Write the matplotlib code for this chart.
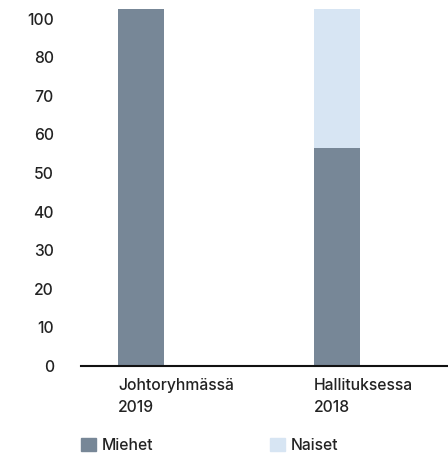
import matplotlib.pyplot as plt
from matplotlib.patches import Patch

# Gender split (%) of the management team and the board
groups = ["Johtoryhmässä\n2019", "Hallituksessa\n2018"]
men = [100, 61]
women = [0, 39]

# Y tick labels as printed on the axis (no "90" step)
ytick_labels = ["0", "10", "20", "30", "40", "50", "60", "70", "80", "100"]

MEN_COLOR = "#778797"
WOMEN_COLOR = "#d7e5f3"
TEXT_COLOR = "#222222"
FONT_SIZE = 11.3

plt.rcParams["font.family"] = ["Inter", "DejaVu Sans"]
plt.rcParams["font.weight"] = 500

fig = plt.figure(figsize=(4.48, 4.58), dpi=100)
ax = fig.add_axes([0.1808, 0.2009, 0.8192, 0.7991])

x = list(range(len(groups)))
width = 0.235
ax.bar(x, men, width=width, color=MEN_COLOR, label="Miehet")
ax.bar(x, women, width=width, bottom=men, color=WOMEN_COLOR, label="Naiset")

ax.set_xlim(-0.306, 1.566)
ax.set_ylim(0, 102.5)

# evenly spaced tick labels, one step = 38.6 px of the 357 px bar
step = 10.81
ax.set_yticks([i * step for i in range(len(ytick_labels))])
ax.set_yticklabels(ytick_labels, fontsize=FONT_SIZE, color=TEXT_COLOR)
ax.tick_params(axis="y", length=0, pad=19.5)

ax.set_xticks([])
for xi, label in zip(x, groups):
    ax.text(xi - width / 2, -3.4, label, ha="left", va="top", fontsize=FONT_SIZE,
            color=TEXT_COLOR, linespacing=1.55)

for side in ["top", "right", "left"]:
    ax.spines[side].set_visible(False)
ax.spines["bottom"].set_linewidth(1.5)
ax.spines["bottom"].set_color("#111111")

handles = [Patch(color=MEN_COLOR, label="Miehet"), Patch(color=WOMEN_COLOR, label="Naiset")]
fig.legend(handles=handles, loc="lower left", bbox_to_anchor=(81 / 448, 5 / 458),
           ncol=2, frameon=False, fontsize=FONT_SIZE, handlelength=0.95, handleheight=0.95,
           handletextpad=0.4, columnspacing=7.4, borderaxespad=0, borderpad=0,
           labelcolor=TEXT_COLOR)

fig.savefig("out.png", dpi=100)
